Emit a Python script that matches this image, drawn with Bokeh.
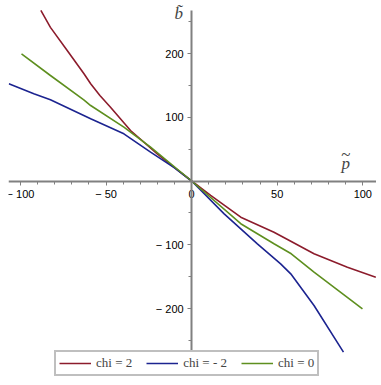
from bokeh.plotting import figure
from bokeh.models import (SingleIntervalTicker, Legend, LegendItem, Label, Range1d)
from bokeh.embed import file_html
from bokeh.resources import INLINE

# ---- data ----
p_red = [-88.1, -82.5, -72.7, -63.0, -59.0, -53.6, -47.4, -35.7, -20.1, -10.4, 0.0,
         11.1, 28.7, 48.1, 58.2, 71.5, 91.0, 107.6]
b_red = [267.5, 241.0, 204.7, 168.6, 152.5, 134.0, 115.8, 79.2, 42.7, 21.6, 0.0,
         -22.7, -56.8, -80.3, -94.9, -114.2, -135.2, -150.9]

p_blue = [-106.8, -92.2, -82.5, -59.0, -39.6, -24.0, -10.0, 0.0, 19.0, 38.4, 52.0,
          57.9, 71.5, 88.7]
b_blue = [152.5, 136.8, 127.4, 97.6, 74.0, 45.2, 20.5, 0.0, -51.5, -98.5, -129.9,
          -145.6, -195.3, -268.5]

p_green = [-99.4, -82.5, -63.0, -59.0, -39.6, -24.0, 0.0, 28.7, 48.1, 58.2, 71.5, 99.8]
b_green = [199.5, 165.5, 127.4, 118.4, 84.4, 53.0, 0.0, -67.0, -98.5, -114.2, -143.0, -200.5]

labels = ["chi = 2", "chi = - 2", "chi = 0"]
colors = ["#8C1C2C", "#1C2490", "#5E8F1F"]

x_ticks_labels = {-100: "\u2212 100", -50: "\u2212 50", 0: "0", 50: "50", 100: "100"}
y_ticks_labels = {-200: "\u2212 200", -100: "\u2212 100", 0: "", 100: "100", 200: "200"}

FRAME_W, FRAME_H = 368, 380
Y_SCALE = 0.6375  # px per unit
Y_ZERO_PX = 180.5  # page pixel row of b = 0
Y_TOP = Y_ZERO_PX / Y_SCALE
y_bottom = Y_TOP - FRAME_H / Y_SCALE

p = figure(frame_width=FRAME_W, frame_height=FRAME_H, output_backend="svg",
           toolbar_location=None,
           x_range=Range1d(-107, 108), y_range=Range1d(y_bottom, Y_TOP),
           min_border_left=8, min_border_right=0, min_border_top=0, min_border_bottom=0)
p.outline_line_color = None
p.grid.visible = False
p.background_fill_color = "white"

r1 = p.line(p_red, b_red, line_color=colors[0], line_width=1.6)
r2 = p.line(p_blue, b_blue, line_color=colors[1], line_width=1.6)
r3 = p.line(p_green, b_green, line_color=colors[2], line_width=1.6)

for ax in (p.xaxis[0], p.yaxis[0]):
    ax.fixed_location = 0
    ax.axis_line_color = "#808080"
    ax.axis_line_width = 2
    ax.major_tick_line_color = "#808080"
    ax.minor_tick_line_color = "#808080"
    ax.major_tick_in = 0
    ax.major_tick_out = 4
    ax.minor_tick_in = 0
    ax.minor_tick_out = 3
    ax.major_label_text_font = "Liberation Sans"
    ax.major_label_text_font_size = "11px"
    ax.major_label_text_color = "black"

p.yaxis[0].bounds = (-267.5, 267.5)
p.xaxis[0].ticker = SingleIntervalTicker(interval=50, num_minor_ticks=5)
p.yaxis[0].ticker = SingleIntervalTicker(interval=100, num_minor_ticks=2)
p.xaxis[0].major_label_overrides = x_ticks_labels
p.yaxis[0].major_label_overrides = y_ticks_labels
p.xaxis[0].major_label_standoff = 3
p.yaxis[0].major_label_standoff = 4

lbl_style = dict(text_font="Liberation Serif", text_font_style="italic",
                 text_font_size="17px", text_align="center", text_baseline="middle")
p.add_layout(Label(x=90, y=27.5, text="p", **lbl_style))
p.add_layout(Label(x=90, y=42, text="~", **lbl_style))
p.add_layout(Label(x=-7.6, y=262, text="b\u0303", **lbl_style))

legend = Legend(items=[LegendItem(label=labels[0], renderers=[r1]),
                       LegendItem(label=labels[1], renderers=[r2]),
                       LegendItem(label=labels[2], renderers=[r3])],
                orientation="horizontal", location=(46, 4),
                border_line_color="#808080", border_line_width=2,
                background_fill_alpha=1.0,
                label_text_font="Liberation Serif", label_text_font_size="13px",
                glyph_width=32, glyph_height=12, label_height=12,
                label_standoff=5, spacing=14, padding=3, margin=0)
p.add_layout(legend, "center")

open("out.html", "w").write(file_html(p, INLINE))
